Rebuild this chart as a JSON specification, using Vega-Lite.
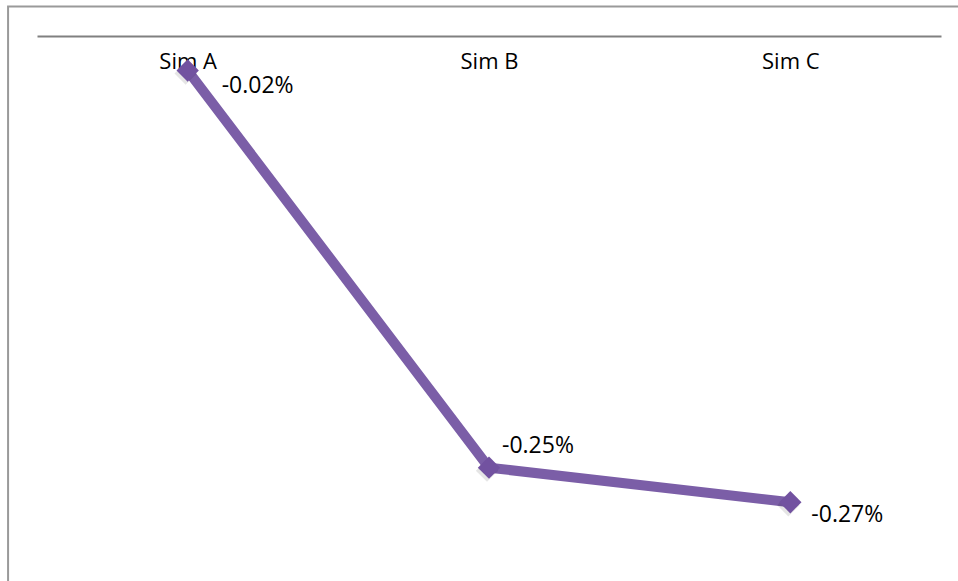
{
  "$schema": "https://vega.github.io/schema/vega-lite/v6.json",
  "width": 904,
  "height": 518,
  "autosize": {"type": "none"},
  "padding": {"left": 37, "top": 36, "right": 17, "bottom": 27},
  "background": "white",
  "config": {
    "view": {"stroke": null},
    "font": "Open Sans",
    "text": {"font": "Open Sans", "fontSize": 23, "color": "#000000"}
  },
  "data": {
    "values": [
      {"sim": "Sim A", "change": -0.02},
      {"sim": "Sim B", "change": -0.25},
      {"sim": "Sim C", "change": -0.27}
    ]
  },
  "layer": [
    {
      "description": "chart-area border",
      "data": {"values": [{"part": "frame"}]},
      "mark": {"type": "rect", "fill": "#ffffff", "fillOpacity": 0, "stroke": "#9a9a9a", "strokeWidth": 2, "clip": false},
      "encoding": {
        "x": {"datum": -0.032, "type": "quantitative", "scale": {"domain": [0, 1], "nice": false, "zero": false}, "axis": null},
        "x2": {"datum": 1.05},
        "y": {"datum": 0.0171, "type": "quantitative", "scale": {"domain": [-0.3, 0], "nice": false, "zero": false}, "axis": null},
        "y2": {"datum": -0.4}
      }
    },
    {
      "transform": [{"calculate": "datum.change + '%'", "as": "label"}],
      "layer": [
        {
          "mark": {"type": "line", "color": "#7b5ea7", "strokeWidth": 10, "strokeCap": "butt", "strokeJoin": "miter"}
        },
        {
          "mark": {"type": "point", "shape": "diamond", "filled": true, "size": 500, "color": "#000000", "opacity": 0.1, "xOffset": -2, "yOffset": 3}
        },
        {
          "mark": {"type": "point", "shape": "diamond", "filled": true, "size": 500, "color": "#7252a0", "opacity": 1}
        },
        {
          "transform": [{"filter": "datum.sim === 'Sim A'"}],
          "mark": {"type": "text", "align": "left", "baseline": "middle", "dx": 34, "dy": 15},
          "encoding": {"text": {"field": "label", "type": "nominal"}}
        },
        {
          "transform": [{"filter": "datum.sim === 'Sim B'"}],
          "mark": {"type": "text", "align": "left", "baseline": "middle", "dx": 13, "dy": -22},
          "encoding": {"text": {"field": "label", "type": "nominal"}}
        },
        {
          "transform": [{"filter": "datum.sim === 'Sim C'"}],
          "mark": {"type": "text", "align": "left", "baseline": "middle", "dx": 21, "dy": 13},
          "encoding": {"text": {"field": "label", "type": "nominal"}}
        }
      ],
      "encoding": {
        "x": {
          "field": "sim",
          "type": "nominal",
          "sort": null,
          "scale": {"type": "point", "padding": 0.5},
          "axis": {
            "orient": "bottom",
            "offset": -518,
            "title": null,
            "labelAngle": 0,
            "labelFont": "Open Sans",
            "labelFontSize": 22,
            "labelColor": "#000000",
            "labelBaseline": "top",
            "labelPadding": 15,
            "ticks": false,
            "tickSize": 0,
            "domainColor": "#808080",
            "domainWidth": 2,
            "grid": false
          }
        },
        "y": {
          "field": "change",
          "type": "quantitative",
          "scale": {"domain": [-0.3, 0], "nice": false, "zero": false},
          "axis": null
        }
      }
    }
  ],
  "resolve": {"scale": {"x": "independent"}, "axis": {"x": "independent"}}
}
